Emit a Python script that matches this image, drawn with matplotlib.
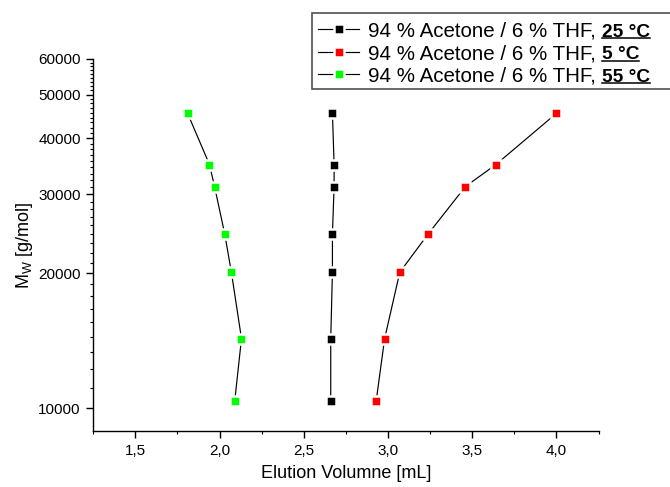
import matplotlib
matplotlib.use("Agg")
import matplotlib.pyplot as plt
from matplotlib.ticker import FixedLocator, NullFormatter, FuncFormatter
from matplotlib.lines import Line2D
from matplotlib.patches import Rectangle

plt.rcParams['font.family'] = ['Liberation Sans', 'DejaVu Sans']
plt.rcParams['mathtext.fontset'] = 'custom'
plt.rcParams['mathtext.rm'] = 'Liberation Sans'
plt.rcParams['mathtext.it'] = 'Liberation Sans:italic'

# Data
mw = [45400, 34900, 31200, 24500, 20100, 14300, 10400]
ev_25 = [2.67, 2.68, 2.68, 2.67, 2.67, 2.66, 2.66]
ev_5 = [4.00, 3.64, 3.46, 3.24, 3.07, 2.98, 2.93]
ev_55 = [1.81, 1.94, 1.97, 2.03, 2.07, 2.13, 2.09]
series_labels = ["94 % Acetone / 6 % THF,"] * 3
temps = ["25 °C", "5 °C", "55 °C"]
colors = ["#000000", "#ff0000", "#00ff00"]
x_ticks = [1.5, 2.0, 2.5, 3.0, 3.5, 4.0]
y_ticks = [10000, 20000, 30000, 40000, 50000, 60000]

W, H = 670, 487
fig = plt.figure(figsize=(W / 100, H / 100), dpi=100)
ax = fig.add_axes([93.3 / W, 1 - 430.7 / H, (598.5 - 93.3) / W, (430.7 - 59) / H])

handles = []
for xs, c, lab in zip([ev_25, ev_5, ev_55], colors, series_labels):
    h, = ax.plot(xs, mw, '-', color='black', lw=0.85, marker='s', ms=7,
                 mfc=c, mec='white', mew=1.8, label=lab)
    handles.append(h)

ax.set_yscale('log')
ax.set_xlim(1.25, 4.25)
ax.set_ylim(8917, 60000)

ax.xaxis.set_major_locator(FixedLocator(x_ticks))
ax.xaxis.set_minor_locator(FixedLocator([t - 0.25 for t in x_ticks] + [x_ticks[-1] + 0.25]))
ax.xaxis.set_major_formatter(FuncFormatter(lambda v, p: f"{v:.1f}".replace('.', ',')))

ax.yaxis.set_major_locator(FixedLocator(y_ticks))
ax.yaxis.set_major_formatter(FuncFormatter(lambda v, p: f"{int(round(v))}"))
minors = []
for a in y_ticks[:-1]:
    for k in range(1, 9):
        minors.append(a + k * 10000 / 9)
ax.yaxis.set_minor_locator(FixedLocator(minors))
ax.yaxis.set_minor_formatter(NullFormatter())

for s in ['top', 'right']:
    ax.spines[s].set_visible(False)
for s in ['left', 'bottom']:
    ax.spines[s].set_linewidth(1.0)

ax.tick_params(which='major', direction='out', length=5, width=1.0, labelsize=11, pad=4)
ax.tick_params(which='minor', direction='out', length=2.5, width=0.8)
ax.tick_params(axis='x', which='major', pad=4.5)

ax.set_xlabel("Elution Volumne [mL]", fontsize=13, labelpad=5)
ax.set_ylabel(r"M$_\mathregular{W}$ [g/mol]", fontsize=13, labelpad=2.5)

# legend frame (extends past right edge of figure, like the reference)
fig.add_artist(Rectangle((312 / W, 1 - 89 / H), (W + 20 - 312) / W, (89 - 13.3) / H,
                         transform=fig.transFigure, facecolor='white',
                         edgecolor='#505050', lw=1.2, zorder=4))

leg_fs = 14.8
leg = fig.legend(handles=handles, loc='upper left',
                 bbox_to_anchor=(312 / W, 1 - 15.5 / H), bbox_transform=fig.transFigure,
                 fontsize=leg_fs, frameon=False, borderpad=0.3, labelspacing=0.17,
                 handlelength=2.0, handletextpad=0.4, borderaxespad=0, numpoints=1)
leg.set_zorder(5)

# bold + underlined temperature suffixes
fig.canvas.draw()
r = fig.canvas.get_renderer()
fs_px = leg_fs * 100 / 72
for txt, temp in zip(leg.get_texts(), temps):
    bb = txt.get_window_extent(r)
    x0 = bb.x1 + 0.32 * fs_px
    t2 = fig.text(x0 / W, bb.y0 / H, temp, fontsize=leg_fs - 1.0, fontweight='bold',
                  ha='left', va='bottom', color='black', zorder=6)
    bb2 = t2.get_window_extent(r)
    baseline = bb.y0 + 0.212 * fs_px
    yl = (baseline - 2.0) / H
    fig.add_artist(Line2D([bb2.x0 / W, bb2.x1 / W], [yl, yl], transform=fig.transFigure,
                          color='black', lw=1.1, zorder=6))

fig.savefig("out.png", dpi=100)
